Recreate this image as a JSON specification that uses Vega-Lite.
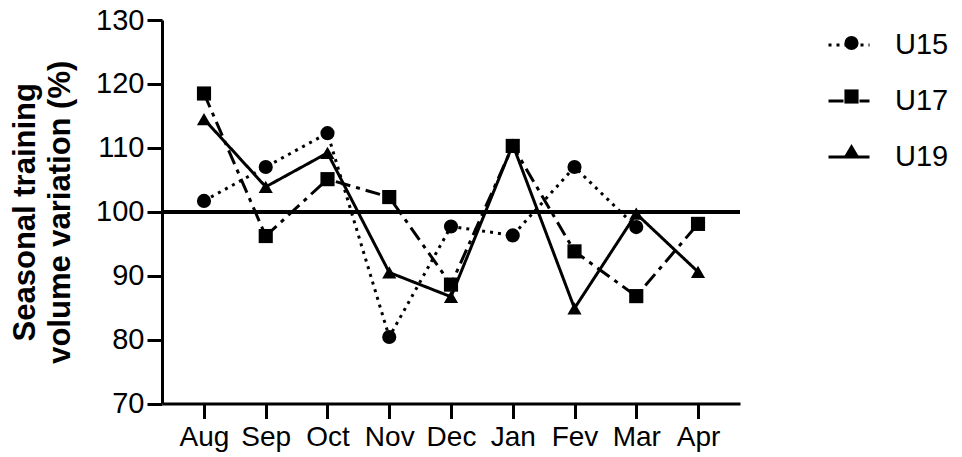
{
  "$schema": "https://vega.github.io/schema/vega-lite/v6.json",
  "width": 578,
  "height": 383.5,
  "autosize": {"type": "none"},
  "padding": {"left": 162, "top": 20, "right": 222, "bottom": 53.5},
  "background": "white",
  "data": {
    "values": [
      {"month": "Aug", "group": "U15", "value": 101.7},
      {"month": "Sep", "group": "U15", "value": 107.0},
      {"month": "Oct", "group": "U15", "value": 112.3},
      {"month": "Nov", "group": "U15", "value": 80.4},
      {"month": "Dec", "group": "U15", "value": 97.7},
      {"month": "Jan", "group": "U15", "value": 96.3},
      {"month": "Fev", "group": "U15", "value": 107.0},
      {"month": "Mar", "group": "U15", "value": 97.6},
      {"month": "Aug", "group": "U17", "value": 118.5},
      {"month": "Sep", "group": "U17", "value": 96.2},
      {"month": "Oct", "group": "U17", "value": 105.1},
      {"month": "Nov", "group": "U17", "value": 102.3},
      {"month": "Dec", "group": "U17", "value": 88.6},
      {"month": "Jan", "group": "U17", "value": 110.3},
      {"month": "Fev", "group": "U17", "value": 93.8},
      {"month": "Mar", "group": "U17", "value": 86.8},
      {"month": "Apr", "group": "U17", "value": 98.1},
      {"month": "Aug", "group": "U19", "value": 114.5},
      {"month": "Sep", "group": "U19", "value": 103.9},
      {"month": "Oct", "group": "U19", "value": 109.2},
      {"month": "Nov", "group": "U19", "value": 90.5},
      {"month": "Dec", "group": "U19", "value": 86.7},
      {"month": "Jan", "group": "U19", "value": 110.5},
      {"month": "Fev", "group": "U19", "value": 84.9},
      {"month": "Mar", "group": "U19", "value": 99.7},
      {"month": "Apr", "group": "U19", "value": 90.6}
    ]
  },
  "encoding": {
    "x": {
      "field": "month",
      "type": "ordinal",
      "sort": ["Aug", "Sep", "Oct", "Nov", "Dec", "Jan", "Fev", "Mar", "Apr"],
      "scale": {"type": "point", "padding": 0.68},
      "axis": {"title": null, "labelAngle": 0, "labelPadding": 5, "labelFontSize": 28}
    },
    "y": {
      "field": "value",
      "type": "quantitative",
      "scale": {"domain": [70, 130], "nice": false, "zero": false},
      "axis": {
        "values": [70, 80, 90, 100, 110, 120, 130],
        "title": ["Seasonal training", "volume variation (%)"],
        "titleFontWeight": "bold",
        "titleFontSize": 31,
        "titleLineHeight": 35,
        "titlePadding": 19,
        "labelPadding": 3,
        "labelFontSize": 29
      }
    }
  },
  "layer": [
    {
      "mark": {"type": "rule", "strokeWidth": 3, "color": "black"},
      "encoding": {"x": null, "y": {"datum": 100}}
    },
    {
      "mark": {"type": "line", "strokeWidth": 3, "color": "black"},
      "encoding": {
        "strokeDash": {
          "field": "group",
          "type": "nominal",
          "scale": {"domain": ["U15", "U17", "U19"], "range": [[3, 5], [15, 6, 4, 6], [1, 0]]},
          "legend": {
            "orient": "none",
            "legendX": 665,
            "legendY": 3,
            "title": null,
            "symbolType": "stroke",
            "symbolSize": 1681,
            "symbolStrokeWidth": 3,
            "symbolStrokeColor": "black",
            "labelFontSize": 29,
            "labelOffset": 24,
            "rowPadding": 19,
            "padding": 0
          }
        }
      }
    },
    {
      "mark": {"type": "point", "filled": true, "size": 200, "color": "black", "opacity": 1},
      "encoding": {
        "shape": {
          "field": "group",
          "type": "nominal",
          "scale": {"range": ["circle", "square", "triangle-up"]},
          "legend": {
            "orient": "none",
            "legendX": 665,
            "legendY": 8.5,
            "title": null,
            "symbolSize": 200,
            "symbolFillColor": "black",
            "symbolStrokeColor": "black",
            "symbolStrokeWidth": 0,
            "symbolOpacity": 1,
            "symbolOffset": 10,
            "labelFontSize": 29,
            "labelExpr": "''",
            "rowPadding": 23.5,
            "padding": 0
          }
        }
      }
    }
  ],
  "config": {
    "view": {"stroke": null},
    "font": "Liberation Sans",
    "axis": {
      "grid": false,
      "domainColor": "black",
      "domainWidth": 3,
      "tickColor": "black",
      "tickWidth": 3,
      "tickSize": 15,
      "labelColor": "black",
      "labelFont": "Liberation Sans",
      "titleColor": "black",
      "titleFont": "Liberation Sans"
    },
    "legend": {"labelColor": "black", "labelFont": "Liberation Sans"}
  }
}
